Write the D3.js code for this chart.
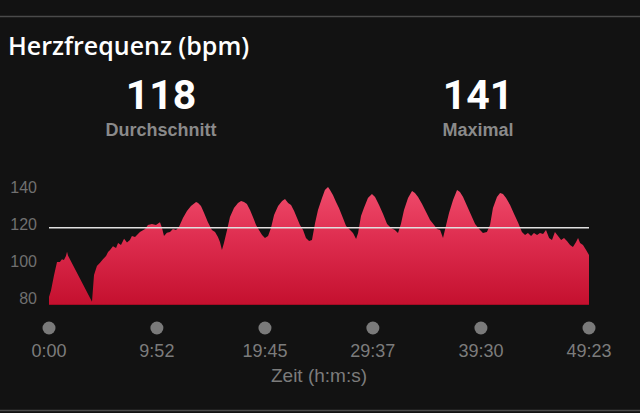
<!DOCTYPE html>
<html><head><meta charset="utf-8">
<script src="https://cdn.jsdelivr.net/npm/d3@7/dist/d3.min.js"></script>
<style>
html,body{margin:0;padding:0;background:#121212;}
svg{display:block;}
</style></head>
<body>
<svg id="chart" width="640" height="413"></svg>
<script>
// time in seconds, heart rate in bpm
const timeSec = [0,11,27,44,60,71,82,93,99,104,236,247,263,280,296,313,324,335,351,368,379,395,412,428,444,455,472,499,527,543,565,587,609,620,631,647,664,680,697,713,735,757,779,807,818,834,851,872,894,911,927,938,949,960,977,993,1015,1037,1054,1070,1086,1103,1119,1136,1152,1169,1185,1202,1218,1235,1257,1279,1295,1312,1328,1345,1361,1377,1394,1410,1427,1443,1460,1476,1498,1514,1531,1542,1558,1575,1591,1613,1630,1652,1668,1685,1696,1712,1728,1750,1772,1789,1811,1833,1855,1877,1898,1915,1931,1948,1970,1992,2008,2025,2047,2069,2091,2113,2129,2146,2162,2179,2195,2217,2239,2255,2272,2294,2316,2338,2360,2381,2403,2420,2436,2458,2475,2491,2508,2530,2552,2573,2595,2612,2628,2645,2661,2678,2694,2711,2727,2744,2760,2776,2793,2810,2826,2842,2859,2875,2892,2903,2914,2930,2947,2963];
const bpm = [80.5,84,92,99.5,99.5,101,100.5,102.7,105,103,78,92.4,97.3,99,101,102.7,104.9,106,108,107,109.7,108.6,112,110,111.4,113.5,113,115.7,117.3,119.5,120,119.5,121,117.8,113.5,115.3,115.7,117.3,116.8,118.4,123.2,127,129.7,131.9,131.4,129.7,126,121,116.8,115.7,113,110.3,106,109.7,116.8,123.8,128.6,131.4,132.4,131.9,130.8,127.6,123.8,119.5,116.8,114,112.4,113.5,117.8,124.9,129.7,132.4,133.5,131.4,130.3,127,123.2,119.5,116.8,112.4,110.8,111.4,120.5,127.6,134,138.4,140,138.4,135.7,131.9,128.6,123.2,118.9,116.8,115.1,111.9,115.1,124.3,128.6,134,136.2,134.6,130.3,125.4,120,117.8,116.8,115.1,120,127.6,134,137.8,136.8,134.6,130.8,126.5,122.2,119.5,117.3,116.8,112.4,119.5,126,133,138.4,137.3,134.6,129.7,124.9,120,117.3,115.1,115.7,119.5,128.6,134.6,136.8,136.2,134,130.3,125.4,121,115.7,114,115.1,113.5,115.1,114,115.1,114.6,116.8,112.4,111.4,115.7,113.5,111.4,112.4,110.8,108.6,107.6,110.3,112.4,109.7,108.6,106,103.2];
const yTicks = [80,100,120,140];
const xTickSec = [0,592,1185,1777,2370,2963];
const xTickLabels = ["0:00","9:52","19:45","29:37","39:30","49:23"];
const avgBpm = 118;
const maxBpm = 141;
const title = "Herzfrequenz (bpm)";
const statLabels = ["Durchschnitt","Maximal"];
const xTitle = "Zeit (h:m:s)";

const data = timeSec.map((t,i)=>({t, v:bpm[i]}));
const svg = d3.select("#chart");
const W = 640, H = 413;

const x = d3.scaleLinear().domain([0, 2963]).range([49, 589]);
const y = d3.scaleLinear().domain([80, 140]).range([298, 187]);
const yBase = y.invert(305);

// separator lines
svg.append("line").attr("x1",0).attr("x2",W).attr("y1",16.5).attr("y2",16.5).attr("stroke","#4a4a4a").attr("stroke-width",1.5);
svg.append("line").attr("x1",0).attr("x2",W).attr("y1",410.5).attr("y2",410.5).attr("stroke","#4a4a4a").attr("stroke-width",1.5);

// title
svg.append("text").attr("x",8).attr("y",55).text(title)
  .attr("fill","#fff").attr("font-family","'Open Sans', sans-serif").attr("font-weight",600).attr("font-size",25);

// stats
const stats = [{v:avgBpm, l:statLabels[0], cx:161},{v:maxBpm, l:statLabels[1], cx:478}];
stats.forEach(s=>{
  svg.append("text").attr("x",s.cx).attr("y",109).attr("text-anchor","middle").text(s.v)
    .attr("fill","#fff").attr("font-family","Roboto, sans-serif").attr("font-weight",700).attr("font-size",41);
  svg.append("text").attr("x",s.cx).attr("y",136).attr("text-anchor","middle").text(s.l)
    .attr("fill","#8a8a8a").attr("font-family","Liberation Sans, Arial, sans-serif").attr("font-weight",700).attr("font-size",18);
});

// gradient
const defs = svg.append("defs");
const grad = defs.append("linearGradient").attr("id","hrGrad").attr("gradientUnits","userSpaceOnUse")
  .attr("x1",0).attr("x2",0).attr("y1",y(141)).attr("y2",305);
grad.append("stop").attr("offset","0%").attr("stop-color","#f04d6d");
grad.append("stop").attr("offset","45%").attr("stop-color","#de2d4f");
grad.append("stop").attr("offset","100%").attr("stop-color","#c4102e");

const area = d3.area().x(d=>x(d.t)).y0(y(yBase)).y1(d=>y(d.v)).curve(d3.curveLinear);
svg.append("path").datum(data).attr("d",area).attr("fill","url(#hrGrad)");
svg.append("line").attr("x1",x(0)).attr("x2",x(2963)).attr("y1",y(yBase)-0.5).attr("y2",y(yBase)-0.5)
  .attr("stroke","#a50c25").attr("stroke-width",1);

// avg line
svg.append("line").attr("x1",x(0)).attr("x2",x(2963)).attr("y1",y(avgBpm)).attr("y2",y(avgBpm))
  .attr("stroke","#e0e0e0").attr("stroke-width",1.5);

// y axis labels
svg.append("g").selectAll("text").data(yTicks).join("text")
  .attr("x",37).attr("y",d=>y(d)).attr("dy","0.36em").attr("text-anchor","end").text(d=>d)
  .attr("fill","#707070").attr("font-family","Liberation Sans, Arial, sans-serif").attr("font-size",16);

// x axis dots + labels
const xg = svg.append("g");
xg.selectAll("circle").data(xTickSec).join("circle")
  .attr("cx",d=>x(d)).attr("cy",328).attr("r",6.5).attr("fill","#7a7a7a");
xg.selectAll("text").data(xTickSec).join("text")
  .attr("x",d=>x(d)).attr("y",357).attr("text-anchor","middle").text((d,i)=>xTickLabels[i])
  .attr("fill","#7c7c7c").attr("font-family","Liberation Sans, Arial, sans-serif").attr("font-size",18);

svg.append("text").attr("x",319).attr("y",382).attr("text-anchor","middle").text(xTitle)
  .attr("fill","#7c7c7c").attr("font-family","Liberation Sans, Arial, sans-serif").attr("font-size",19);
</script>
</body></html>
